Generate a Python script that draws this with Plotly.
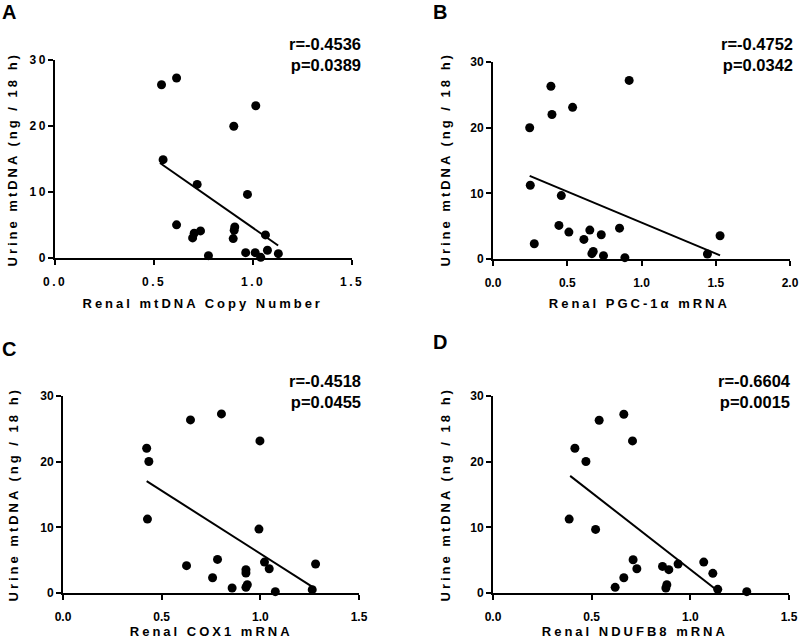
import plotly.graph_objects as go

# ---------------- data ----------------
# Panel A: Renal mtDNA copy number vs urine mtDNA
a_x = [0.538, 0.614, 0.903, 1.014, 0.546, 0.718, 0.972, 0.614, 0.703, 0.695, 0.735,
       0.775, 0.908, 0.905, 0.900, 0.963, 1.011, 1.039, 1.063, 1.073, 1.128]
a_y = [26.25, 27.27, 19.97, 23.06, 14.9, 11.15, 9.63, 5.02, 3.75, 3.04, 4.1,
       0.35, 4.71, 4.2, 2.94, 0.81, 0.81, 0.1, 3.5, 1.17, 0.66]
a_fit_x = [0.53, 1.127]
a_fit_y = [14.4, 1.9]

# Panel B: Renal PGC-1α mRNA
b_x = [0.39, 0.917, 0.397, 0.536, 0.247, 0.251, 0.46, 0.278, 0.444, 0.511,
       0.612, 0.652, 0.729, 0.852, 0.675, 0.666, 0.744, 0.888, 1.444, 1.529]
b_y = [26.3, 27.2, 22.0, 23.1, 19.98, 11.23, 9.66, 2.33, 5.11, 4.1,
       2.98, 4.4, 3.69, 4.7, 1.16, 0.81, 0.51, 0.2, 0.76, 3.54]
b_fit_x = [0.247, 1.529]
b_fit_y = [12.65, 0.56]

# Panel C: Renal COX1 mRNA
c_x = [0.424, 0.435, 0.428, 0.646, 0.803, 0.998, 0.993, 0.626, 0.783, 0.758,
       0.857, 0.927, 0.927, 0.934, 0.927, 1.021, 1.045, 1.076, 1.263, 1.28]
c_y = [22.05, 20.02, 11.25, 26.36, 27.27, 23.16, 9.73, 4.16, 5.12, 2.33,
       0.76, 3.55, 3.04, 1.27, 0.86, 4.71, 3.7, 0.2, 0.51, 4.41]
c_fit_x = [0.424, 1.268]
c_fit_y = [17.03, 0.86]

# Panel D: Renal NDUFB8 mRNA
d_x = [0.538, 0.663, 0.707, 0.415, 0.471, 0.386, 0.52, 0.71, 0.729, 0.663,
       0.619, 0.859, 0.891, 0.938, 0.881, 0.876, 1.068, 1.114, 1.139, 1.286]
d_y = [26.3, 27.22, 23.16, 22.05, 20.02, 11.25, 9.68, 5.07, 3.7, 2.33,
       0.86, 4.05, 3.55, 4.41, 1.27, 0.76, 4.71, 2.99, 0.56, 0.2]
d_fit_x = [0.391, 1.125]
d_fit_y = [17.84, 0.66]

panel_letters = ["A", "B", "C", "D"]
x_titles = ["Renal mtDNA Copy Number", "Renal PGC-1α mRNA",
            "Renal COX1 mRNA", "Renal NDUFB8 mRNA"]
y_title = "Urine mtDNA (ng / 18 h)"
stats_r = ["r=-0.4536", "r=-0.4752", "r=-0.4518", "r=-0.6604"]
stats_p = ["p=0.0389", "p=0.0342", "p=0.0455", "p=0.0015"]
x_ticks = [[0, 0.5, 1.0, 1.5], [0, 0.5, 1.0, 1.5, 2.0], [0, 0.5, 1.0, 1.5], [0, 0.5, 1.0, 1.5]]
x_ranges = [[0, 1.5], [0, 2.0], [0, 1.5], [0, 1.5]]
y_ticks = [0, 10, 20, 30]

# ---------------- layout geometry (pixels in 800x640) ----------------
W, H = 800, 640
plot_px = [  # x0, x1, ytop, ybottom
    (55, 352, 60, 258),
    (493, 790, 62, 259),
    (63, 359, 396, 593),
    (493, 789, 396, 593),
]
letter_pos = [(9, 12), (440, 12), (9, 349), (440, 342)]
stat_pos = [(363, 33), (795, 33), (363, 370), (793, 370)]
xtitle_pos = [(203, 303), (639, 303), (211, 631), (635, 631)]
ytitle_pos = [(12, 160), (445, 160), (13, 495), (445, 495)]

FONT = "Liberation Sans, Arial, sans-serif"

series = [(a_x, a_y, a_fit_x, a_fit_y), (b_x, b_y, b_fit_x, b_fit_y),
          (c_x, c_y, c_fit_x, c_fit_y), (d_x, d_y, d_fit_x, d_fit_y)]

fig = go.Figure()
annotations = []
layout_axes = {}
for i, (sx, sy, fx, fy) in enumerate(series):
    n = "" if i == 0 else str(i + 1)
    xa, ya = "x" + n, "y" + n
    fig.add_trace(go.Scatter(x=sx, y=sy, mode="markers", xaxis=xa, yaxis=ya,
                             marker=dict(color="black", size=9),
                             cliponaxis=False, showlegend=False, hoverinfo="skip"))
    fig.add_trace(go.Scatter(x=fx, y=fy, mode="lines", xaxis=xa, yaxis=ya,
                             line=dict(color="black", width=2),
                             cliponaxis=False, showlegend=False, hoverinfo="skip"))
    x0, x1, yt, yb = plot_px[i]
    common = dict(showline=True, linecolor="black", linewidth=2, ticks="outside",
                  ticklen=5, tickwidth=2, tickcolor="black", showgrid=False,
                  zeroline=False, fixedrange=True, automargin=False, mirror=False,
                  tickfont=dict(family=FONT, size=12, color="black", weight="bold"))
    layout_axes["xaxis" + n] = dict(common, domain=[x0 / W, x1 / W], anchor=ya,
                                    range=x_ranges[i], tickvals=x_ticks[i],
                                    tickformat=".1f", ticklabelstandoff=7)
    layout_axes["yaxis" + n] = dict(common, domain=[1 - yb / H, 1 - yt / H], anchor=xa,
                                    range=[0, 30], tickvals=y_ticks)
    lx, ly = letter_pos[i]
    annotations.append(dict(text=panel_letters[i], x=lx / W, y=1 - ly / H,
                            xref="paper", yref="paper", showarrow=False,
                            xanchor="center", yanchor="middle",
                            font=dict(family=FONT, size=20, color="black", weight="bold")))
    sxp, syp = stat_pos[i]
    annotations.append(dict(text=stats_r[i] + "<br>" + stats_p[i], x=sxp / W, y=1 - syp / H,
                            xref="paper", yref="paper", showarrow=False,
                            xanchor="right", yanchor="top", align="right",
                            font=dict(family=FONT, size=16.5, color="black", weight="bold")))
    tx, ty = xtitle_pos[i]
    annotations.append(dict(text=x_titles[i], x=tx / W, y=1 - ty / H,
                            xref="paper", yref="paper", showarrow=False,
                            xanchor="center", yanchor="middle",
                            font=dict(family=FONT, size=13, color="black", weight="bold")))
    yx, yy = ytitle_pos[i]
    annotations.append(dict(text=y_title, x=yx / W, y=1 - yy / H, textangle=-90,
                            xref="paper", yref="paper", showarrow=False,
                            xanchor="center", yanchor="middle",
                            font=dict(family=FONT, size=13, color="black", weight="bold")))

fig.update_layout(template="none", width=W, height=H,
                  margin=dict(l=0, r=0, t=0, b=0, autoexpand=False),
                  paper_bgcolor="white", plot_bgcolor="white", hovermode=False,
                  annotations=annotations, **layout_axes)

post = """
document.body.style.margin = '0';
document.body.style.padding = '0';
var gd = document.getElementById('{plot_id}');
function spaceText(el, sp, keep){
  if (el.getAttribute('data-spaced')) return;
  var b0 = el.getBBox();
  el.style.letterSpacing = sp;
  el.style.fontWeight = 'bold';
  var b1 = el.getBBox();
  var dx, dy = 0;
  if (keep === 'end') { dx = (b0.x + b0.width) - (b1.x + b1.width) + 2; }
  else { dx = (b0.x + b0.width/2) - (b1.x + b1.width/2); dy = (b0.y + b0.height/2) - (b1.y + b1.height/2); }
  var t = el.getAttribute('transform') || '';
  el.setAttribute('transform', t + ' translate(' + dx + ',' + dy + ')');
  el.setAttribute('data-spaced', '1');
}
function spacing(){
  gd.querySelectorAll('.xtick text').forEach(function(e){ spaceText(e, '2.5px', 'center'); });
  gd.querySelectorAll('.ytick text').forEach(function(e){ spaceText(e, '2.5px', 'end'); });
  gd.querySelectorAll('.annotation-text').forEach(function(e){
    var t = e.textContent;
    if (t.length > 2 && t.indexOf('r=') !== 0) { spaceText(e, '3px', 'center'); }
  });
}
spacing();
"""

fig.write_html("out.html", post_script=post, config={"displayModeBar": False})
